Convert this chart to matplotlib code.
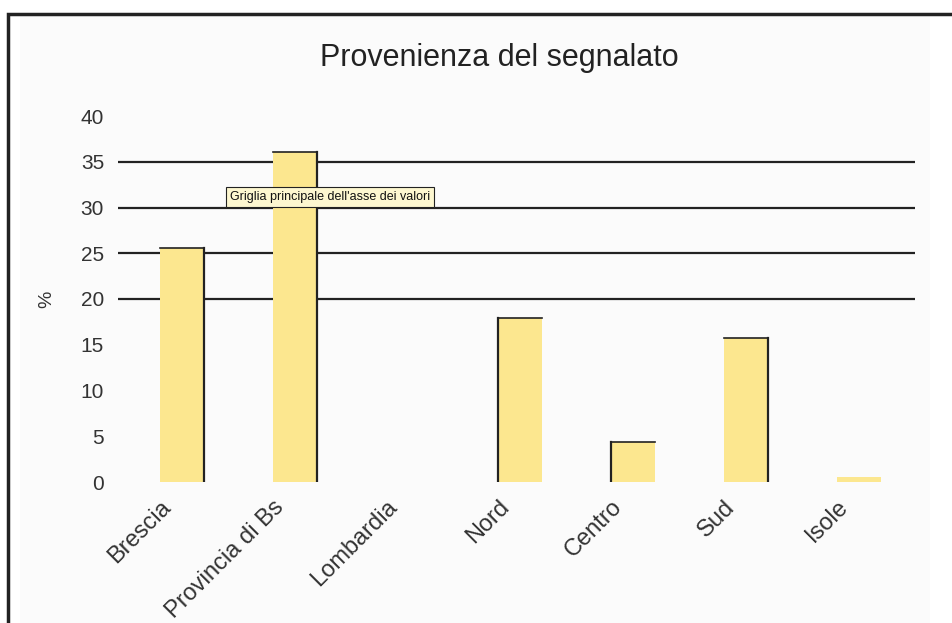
import matplotlib
matplotlib.use("Agg")
import matplotlib.pyplot as plt
from matplotlib.patches import Rectangle
from matplotlib.transforms import ScaledTranslation

categories = ["Brescia", "Provincia di Bs", "Lombardia", "Nord", "Centro", "Sud", "Isole"]
values = [25.6, 36.1, 0.0, 17.9, 4.4, 15.7, 0.5]
yticks = [0, 5, 10, 15, 20, 25, 30, 35, 40]
dark_grid = [20, 25, 30, 35]
title = "Provenienza del segnalato"
ylabel = "%"
tooltip = "Griglia principale dell'asse dei valori"

plt.rcParams['font.family'] = ['Liberation Sans', 'DejaVu Sans']

fig = plt.figure(figsize=(9.52, 6.23), dpi=100)
fig.patch.set_facecolor('white')

# outer frame and inner panel
fig.patches.append(Rectangle((20/952, 0), 910/952, 1 - 16/623, transform=fig.transFigure,
                             facecolor='#fbfbfb', edgecolor='none', zorder=0))
fig.patches.append(Rectangle((8/952, -0.05), 1.1, 1 - 14/623 + 0.05, transform=fig.transFigure,
                             facecolor='none', edgecolor='#222222', linewidth=2.5, zorder=1))

ax = fig.add_axes([118/952, 1 - 482/623, (915 - 118)/952, (482 - 116)/623])
ax.set_zorder(3)
ax.set_facecolor('none')
x = list(range(len(categories)))
hw = 0.195
ax.bar(x, values, width=2 * hw, color='#fce78f', edgecolor='none', zorder=3)
# scanned edge look: dark stroke on one side and top
sides = [1, 1, 1, -1, -1, 1, 1]
for xi, v, sd in zip(x, values, sides):
    if v > 1:
        ax.plot([xi + sd * hw, xi + sd * hw], [0, v], color='#222222', lw=1.6, zorder=4)
        ax.plot([xi - hw, xi + hw], [v, v], color='#222222', lw=1.2, zorder=4)
for g in dark_grid:
    ax.axhline(g, color='#222222', lw=1.6, zorder=2)
ax.set_xlim(-0.57, 6.5)
ax.set_ylim(0, 40)
ax.set_yticks(yticks)
ax.set_yticklabels([str(t) for t in yticks], fontsize=15, color='#333333')
ax.set_xticks(x)
ax.set_xticklabels([''] * len(categories))
lbl_tr = ax.get_xaxis_transform() + ScaledTranslation(-22/100, -14/100, fig.dpi_scale_trans)
for xi, c in zip(x, categories):
    ax.text(xi, 0, c, transform=lbl_tr, rotation=45, ha='right', va='top',
            rotation_mode='anchor', fontsize=17, color='#333333')
ax.tick_params(axis='both', length=0, pad=10)
ax.tick_params(axis='y', pad=10)
for s in ax.spines.values():
    s.set_visible(False)

ax.set_ylabel(ylabel, fontsize=14, color='#333333', labelpad=18)
fig.text(499/952, 1 - 58/623, title, ha='center', va='center', fontsize=22, color='#222222',
         zorder=5)

# tooltip box
fig.text(230/952, 1 - 197/623, tooltip, ha='left', va='center', fontsize=9, color='#111111',
         zorder=6,
         bbox=dict(boxstyle='square,pad=0.3', facecolor='#fdf7d0', edgecolor='#222222', lw=0.8))

fig.savefig("out.png", dpi=100)
